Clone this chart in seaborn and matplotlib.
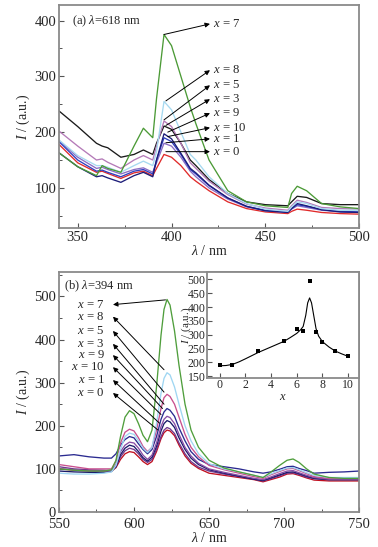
import numpy as np
import pandas as pd
import matplotlib
matplotlib.use("Agg")
import matplotlib.pyplot as plt
import seaborn as sns

sns.set_theme(style="white")
plt.rcParams['font.family'] = ['Liberation Serif', 'DejaVu Serif']
plt.rcParams['mathtext.fontset'] = 'custom'
plt.rcParams['mathtext.rm'] = 'Liberation Serif'
plt.rcParams['mathtext.it'] = 'Liberation Serif:italic'

# ---------------- data: panel (a), excitation spectra (lambda_em = 618 nm)
wl_a = [340, 350, 360, 363, 366, 373, 380, 385, 390, 392, 396, 400, 405, 410, 413, 420, 430, 440, 450, 462, 464, 467, 472, 480, 490, 500]
a_x0 = [178, 145, 128, 130, 126, 117, 127, 130, 122, 135, 160, 155, 140, 120, 112, 95, 75, 63, 57, 54, 58, 62, 60, 56, 54, 53]
a_x1 = [185, 155, 135, 137, 133, 125, 133, 136, 128, 145, 180, 175, 155, 130, 120, 100, 80, 66, 59, 56, 62, 68, 65, 60, 57, 56]
a_x10 = [183, 150, 130, 132, 128, 120, 130, 133, 125, 150, 190, 183, 160, 133, 125, 104, 82, 67, 60, 57, 63, 70, 67, 61, 58, 57]
a_x9 = [163, 138, 120, 122, 118, 110, 122, 128, 120, 150, 197, 188, 162, 135, 127, 105, 82, 67, 59, 56, 63, 72, 68, 61, 57, 56]
a_x3 = [238, 210, 180, 175, 172, 155, 160, 168, 160, 180, 211, 205, 180, 150, 140, 115, 90, 75, 70, 68, 75, 85, 83, 72, 70, 70]
a_x5 = [202, 175, 150, 152, 146, 135, 150, 158, 150, 175, 220, 210, 180, 145, 135, 112, 88, 71, 64, 60, 68, 78, 74, 65, 63, 62]
a_x8 = [186, 158, 140, 140, 137, 128, 140, 148, 140, 165, 255, 240, 200, 160, 150, 120, 90, 72, 62, 58, 66, 75, 72, 63, 60, 60]
a_x7 = [163, 138, 122, 140, 135, 128, 175, 207, 190, 260, 375, 355, 300, 245, 215, 150, 95, 75, 68, 65, 90, 103, 95, 72, 66, 63]

# ---------------- data: panel (b), emission spectra (lambda_ex = 394 nm)
wl_b = [550, 560, 570, 580, 585, 588, 591, 594, 597, 600, 603, 606, 609, 612, 615, 618, 620, 622, 624, 627,
        630, 634, 638, 643, 650, 660, 670, 680, 686, 691, 697, 702, 706, 710, 715, 720, 730, 740, 750]
b_x7 = [100, 97, 95, 95, 98, 120, 175, 220, 235, 228, 205, 178, 163, 190, 290, 410, 470, 493, 480, 420,
        340, 250, 190, 150, 120, 102, 93, 85, 80, 92, 108, 120, 123, 115, 100, 88, 80, 78, 78]
b_x8 = [90, 88, 88, 90, 93, 108, 145, 175, 183, 180, 165, 148, 138, 150, 205, 275, 310, 323, 318, 290,
        250, 200, 165, 135, 112, 100, 93, 85, 80, 88, 96, 102, 103, 98, 91, 85, 80, 80, 80]
b_x5 = [110, 105, 100, 100, 100, 118, 160, 185, 192, 188, 172, 152, 140, 150, 190, 240, 265, 273, 268, 250,
        220, 180, 150, 128, 108, 98, 90, 82, 78, 86, 94, 100, 101, 96, 89, 82, 78, 78, 78]
b_x3 = [130, 133, 128, 125, 125, 135, 155, 168, 175, 172, 158, 145, 135, 145, 175, 215, 232, 240, 236, 222,
        195, 165, 140, 122, 110, 105, 100, 93, 90, 93, 99, 105, 106, 101, 96, 90, 92, 93, 95]
b_x9 = [100, 98, 95, 95, 96, 110, 140, 155, 162, 160, 148, 132, 122, 132, 160, 198, 215, 222, 219, 205,
        180, 150, 130, 113, 100, 92, 85, 78, 75, 81, 89, 95, 96, 91, 85, 80, 76, 76, 76]
b_x10 = [95, 93, 92, 92, 94, 105, 133, 148, 155, 152, 140, 126, 118, 127, 152, 188, 205, 212, 209, 196,
         172, 145, 125, 110, 98, 90, 83, 76, 73, 79, 86, 92, 93, 89, 83, 78, 75, 75, 75]
b_x1 = [105, 100, 98, 97, 96, 106, 128, 142, 148, 145, 135, 122, 115, 122, 145, 175, 190, 196, 193, 182,
        160, 135, 117, 104, 95, 88, 82, 76, 72, 77, 84, 90, 91, 87, 81, 77, 75, 75, 75]
b_x0 = [100, 97, 95, 95, 95, 103, 122, 135, 140, 138, 128, 117, 110, 117, 140, 170, 184, 190, 188, 177,
        155, 130, 113, 101, 90, 85, 80, 75, 70, 75, 81, 88, 89, 85, 79, 74, 72, 72, 72]

# ---------------- inset data: peak intensity vs x
inset_x = [0, 1, 3, 5, 6, 6.5, 7, 7.5, 8, 9, 10]
inset_y = [190, 192, 242, 277, 322, 313, 493, 310, 273, 240, 222]
fit_x = [0, 0.5, 1, 1.5, 2, 3, 4, 5, 5.5, 6, 6.3, 6.5, 6.7, 6.85, 7, 7.15, 7.3, 7.5, 7.7, 8, 8.5, 9, 9.5, 10]
fit_y = [188, 189, 193, 202, 213, 236, 256, 276, 290, 305, 318, 330, 370, 415, 433, 415, 375, 322, 295, 275, 256, 241, 231, 222]

# labels (order top to bottom)
labels = ["x = 7", "x = 8", "x = 5", "x = 3", "x = 9", "x = 10", "x = 1", "x = 0"]

series_a = {"x = 7": a_x7, "x = 8": a_x8, "x = 5": a_x5, "x = 3": a_x3,
            "x = 9": a_x9, "x = 10": a_x10, "x = 1": a_x1, "x = 0": a_x0}
series_b = {"x = 7": b_x7, "x = 8": b_x8, "x = 5": b_x5, "x = 3": b_x3,
            "x = 9": b_x9, "x = 10": b_x10, "x = 1": b_x1, "x = 0": b_x0}

pal_a = {"x = 7": "#4b9a36", "x = 8": "#a6d9f0", "x = 5": "#b47ab8", "x = 3": "#1a1a1a",
         "x = 9": "#1c1c78", "x = 10": "#3040c0", "x = 1": "#8a6cc4", "x = 0": "#e02a2a"}
pal_b = {"x = 7": "#4f9e3c", "x = 8": "#9fd6f2", "x = 5": "#c8508e", "x = 3": "#2a2a90",
         "x = 9": "#8a4ea6", "x = 10": "#1a1a6a", "x = 1": "#70388e", "x = 0": "#c01020"}

# label / arrow positions
lab_a_y = [394, 311, 284, 259, 234, 208, 188, 165]
tail_a = [(396, 375), (397, 256), (396, 222), (397, 212), (398, 200), (398, 192), (397, 181), (397, 165)]
lab_b_y = [481, 453, 420, 390, 364, 336, 306, 276]
tail_b = [(621, 492), (620, 330), (620, 278), (620, 250), (619, 240), (618, 226), (617, 206), (616, 190)]

def long_df(wl, series):
    rows = []
    for k, v in series.items():
        rows.append(pd.DataFrame({"wl": wl, "I": v, "s": k}))
    return pd.concat(rows, ignore_index=True)

df_a = long_df(wl_a, series_a)
df_b = long_df(wl_b, series_b)

fig = plt.figure(figsize=(3.78, 5.47), dpi=100)
ax1 = fig.add_axes([0.156, 0.583, 0.794, 0.408])
ax2 = fig.add_axes([0.156, 0.064, 0.794, 0.439])
axin = fig.add_axes([0.547, 0.3095, 0.403, 0.193])

spine_col = "#8a8a8a"
fs = 10.5

def style(ax, fsz):
    for sp in ax.spines.values():
        sp.set_color(spine_col)
        sp.set_linewidth(1.3)
    ax.tick_params(direction="in", length=3.5, width=0.8, color="#555555",
                   labelsize=fsz, left=True, bottom=True, top=False, right=False, pad=2)
    ax.tick_params(which="minor", direction="in", length=2, width=0.7, color="#555555",
                   left=True, bottom=True, top=False, right=False)

hue_order = labels[::-1]

sns.lineplot(data=df_a, x="wl", y="I", hue="s", hue_order=hue_order, palette=pal_a,
             ax=ax1, legend=False, lw=0.95, sort=False)
ax1.set_xlim(340, 500)
ax1.set_ylim(28, 428)
ax1.set_xticks([350, 400, 450, 500])
ax1.set_yticks([100, 200, 300, 400])
ax1.xaxis.set_minor_locator(matplotlib.ticker.MultipleLocator(25))
ax1.yaxis.set_minor_locator(matplotlib.ticker.MultipleLocator(50))
style(ax1, fs)
ax1.set_xlabel(r"$\lambda$ / nm", fontsize=10, labelpad=0)
ax1.set_ylabel(r"$I$ / (a.u.)", fontsize=10, labelpad=2)
ax1.text(0.045, 0.925, r"(a) $\lambda$=618 nm", transform=ax1.transAxes, fontsize=9,
         va="center", ha="left")
for lab, ly, (tx, ty) in zip(labels, lab_a_y, tail_a):
    ax1.annotate("", xy=(420.5, ly), xytext=(tx, ty),
                 arrowprops=dict(arrowstyle="-|>", color="black", lw=0.7,
                                 mutation_scale=7, shrinkA=0, shrinkB=0))
    ax1.text(422.3, ly, r"$x$" + lab[1:], fontsize=9.2, va="center", ha="left")

sns.lineplot(data=df_b, x="wl", y="I", hue="s", hue_order=hue_order, palette=pal_b,
             ax=ax2, legend=False, lw=0.95, sort=False)
ax2.set_xlim(550, 750)
ax2.set_ylim(0, 557)
ax2.set_xticks([550, 600, 650, 700, 750])
ax2.set_yticks([0, 100, 200, 300, 400, 500])
ax2.xaxis.set_minor_locator(matplotlib.ticker.MultipleLocator(25))
ax2.yaxis.set_minor_locator(matplotlib.ticker.MultipleLocator(50))
style(ax2, fs)
ax2.tick_params(axis="x", pad=4)
ax2.set_xlabel(r"$\lambda$ / nm", fontsize=10, labelpad=0)
ax2.set_ylabel(r"$I$ / (a.u.)", fontsize=10, labelpad=2)
ax2.text(0.017, 0.94, r"(b) $\lambda$=394 nm", transform=ax2.transAxes, fontsize=9,
         va="center", ha="left")
for lab, ly, (tx, ty) in zip(labels, lab_b_y, tail_b):
    ax2.annotate("", xy=(586, ly), xytext=(tx, ty),
                 arrowprops=dict(arrowstyle="-|>", color="black", lw=0.7,
                                 mutation_scale=7, shrinkA=0, shrinkB=0))
    ax2.text(580.5, ly, r"$x$" + lab[1:], fontsize=9.2, va="center", ha="right")

sns.lineplot(x=fit_x, y=fit_y, ax=axin, color="black", lw=0.8)
sns.scatterplot(x=inset_x, y=inset_y, ax=axin, color="black", marker="s", s=7,
                edgecolor="black", linewidth=0)
axin.set_xlim(-1, 10.85)
axin.set_ylim(145, 526)
axin.set_xticks([0, 2, 4, 6, 8, 10])
axin.set_yticks([150, 200, 250, 300, 350, 400, 450, 500])
style(axin, 8.5)
axin.tick_params(pad=1)
axin.set_xlabel(r"$x$", fontsize=9, labelpad=0)
axin.set_ylabel(r"$I$ / (a.u.)", fontsize=8, labelpad=-4)

fig.savefig("out.png", dpi=100)
